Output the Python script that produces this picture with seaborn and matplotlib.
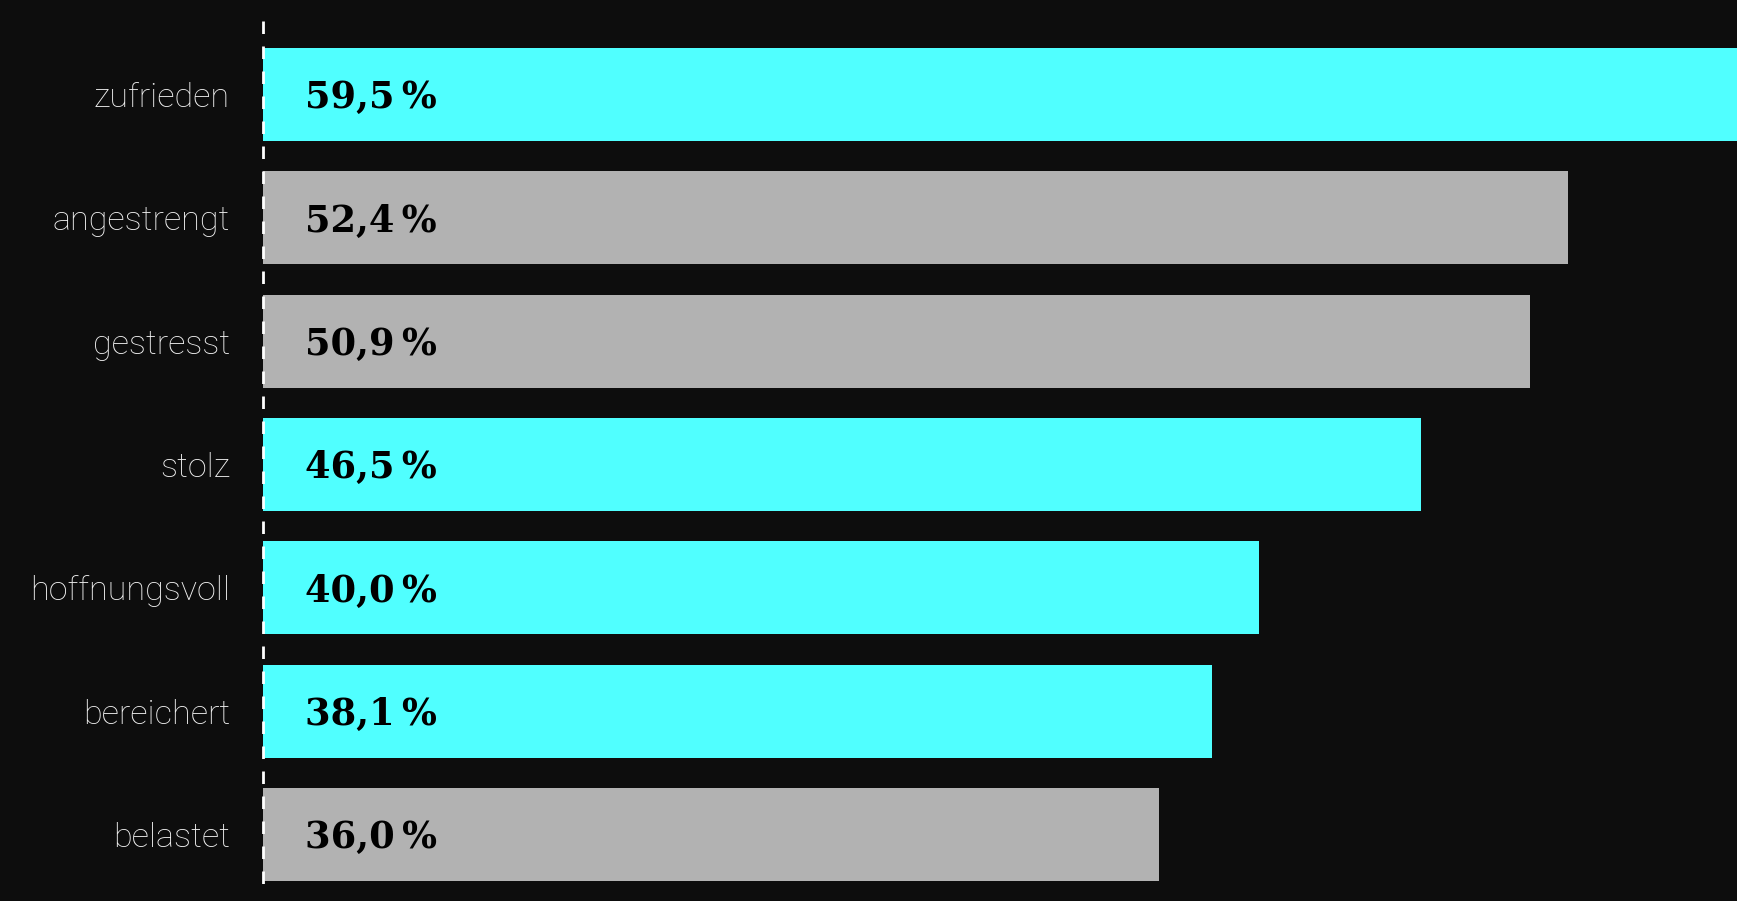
import matplotlib
matplotlib.use("Agg")
import matplotlib.pyplot as plt
import seaborn as sns
import pandas as pd

# Survey answers: how people feel, share in percent
labels = ["zufrieden", "angestrengt", "gestresst", "stolz",
          "hoffnungsvoll", "bereichert", "belastet"]
values = [59.5, 52.4, 50.9, 46.5, 40.0, 38.1, 36.0]
positive = [True, False, False, True, True, True, False]

BG = "#0d0d0d"
CYAN = "#50ffff"
GREY = "#b2b2b2"

df = pd.DataFrame({"label": labels, "value": values})
palette = {lab: (CYAN if pos else GREY) for lab, pos in zip(labels, positive)}

sns.set_theme(style="white")
plt.rcParams["font.family"] = ["Roboto", "DejaVu Sans"]

W, H, DPI = 1737, 901, 100
fig = plt.figure(figsize=(W / DPI, H / DPI), dpi=DPI, facecolor=BG)
left = 263 / W
ax = fig.add_axes([left, 0, 1 - left, 1])
ax.set_facecolor(BG)

sns.barplot(data=df, x="value", y="label", hue="label", palette=palette,
            order=labels, hue_order=labels, dodge=False, width=0.754,
            legend=False, ax=ax, saturation=1, linewidth=0)

# value scale: roughly 24.9 px per percentage point
ax.set_xlim(0, (W - 263) / 24.9)
y_top, y_bottom = -0.766, 6.54
ax.set_ylim(y_bottom, y_top)

# dashed baseline at zero, dash pattern starting from the top
row_px = H / (y_bottom - y_top)
ax.plot([0, 0], [y_top + 21 / row_px, y_top + 894 / row_px], color="white",
        linewidth=2, linestyle=(0, (4.5, 4.5)), zorder=5, clip_on=False)

px = 72 / DPI
for i, v in enumerate(values):
    txt = f"{v:.1f}".replace(".", ",") + "\u2009%"
    ax.annotate(txt, xy=(0, i), xytext=(42 * px, -14 * px),
                textcoords="offset points", ha="left", va="baseline",
                fontsize=26.5, fontweight="bold", color="black",
                family=["DejaVu Serif"], zorder=6)

ax.set_xlabel("")
ax.set_ylabel("")
ax.set_xticks([])
ax.tick_params(axis="y", length=0, pad=33 * px)
for t in ax.get_yticklabels():
    t.set_color("#f0f0f0")
    t.set_fontsize(24.6)
    t.set_fontweight("light")
for s in ax.spines.values():
    s.set_visible(False)

fig.savefig("out.png", dpi=DPI, facecolor=BG)
